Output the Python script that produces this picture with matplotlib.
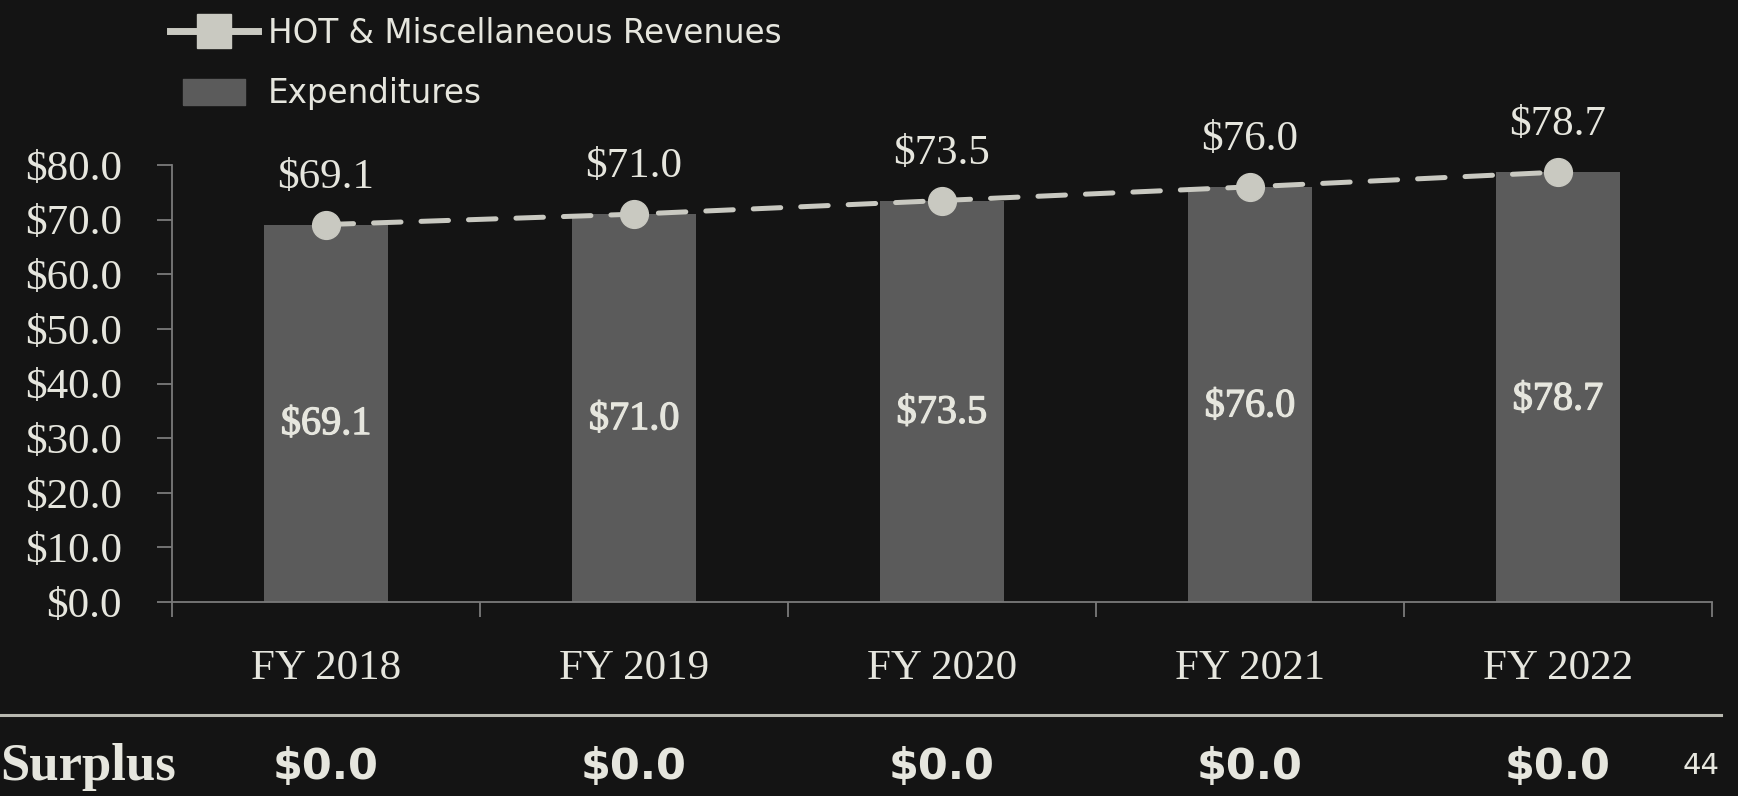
import matplotlib
matplotlib.use("Agg")
import matplotlib.pyplot as plt
from matplotlib.lines import Line2D
from matplotlib.path import Path
import matplotlib.patheffects as pe

# data
years = ["FY 2018", "FY 2019", "FY 2020", "FY 2021", "FY 2022"]
expenditures = [69.1, 71.0, 73.5, 76.0, 78.7]
revenues = [69.1, 71.0, 73.5, 76.0, 78.7]
surplus = [0.0, 0.0, 0.0, 0.0, 0.0]
yticks = [0, 10, 20, 30, 40, 50, 60, 70, 80]

bg = "#141414"
txt = "#e6e6de"
bar_col = "#5b5b5b"
line_col = "#c9c9c1"
axis_col = "#7a7a7a"
serif = "Liberation Serif"

fig = plt.figure(figsize=(17.38, 7.96), dpi=100)
fig.patch.set_facecolor(bg)
ax = fig.add_axes([0.099, 0.2437, 0.886, 0.549])
ax.set_facecolor(bg)

x = list(range(len(years)))
ax.bar(x, expenditures, width=0.4, color=bar_col, zorder=2)
ax.plot(x, revenues, color=line_col, lw=3.6, dashes=(5.5, 4),
        dash_capstyle="round", marker="o", markersize=20,
        markerfacecolor=line_col, markeredgecolor=line_col, zorder=3,
        clip_on=False)

# labels above points and inside bars
bold_ish = [pe.withStroke(linewidth=0.9, foreground=txt)]
for xi, r, e in zip(x, revenues, expenditures):
    ax.annotate(f"${r:.1f}", (xi, r), xytext=(0, 34), textcoords="offset points",
                ha="center", va="center", fontsize=31, color=txt,
                family=serif, annotation_clip=False)
    ax.text(xi, e * 0.47, f"${e:.1f}", ha="center", va="center",
            fontsize=29, color=txt, family=serif, zorder=4,
            path_effects=bold_ish)

ax.set_xlim(-0.5, len(years) - 0.5)
ax.set_ylim(0, 80)
ax.set_yticks(yticks)
ax.set_yticklabels([f"${v:.1f}" for v in yticks], family=serif, fontsize=31, color=txt)
ax.tick_params(axis="y", length=11, width=1.3, color=axis_col, pad=25)

ax.set_xticks(x)
ax.set_xticklabels(years, family=serif, fontsize=31, color=txt)
ax.set_xticks([i - 0.5 for i in range(len(years) + 1)], minor=True)
ax.tick_params(axis="x", which="major", length=0, pad=34)
ax.tick_params(axis="x", which="minor", length=11, width=1.3, color=axis_col)

for side in ["top", "right"]:
    ax.spines[side].set_visible(False)
for side in ["left", "bottom"]:
    ax.spines[side].set_color(axis_col)
    ax.spines[side].set_linewidth(1.3)

# legend
rect = Path([(-1, -0.44), (1, -0.44), (1, 0.44), (-1, 0.44), (-1, -0.44)])
handles = [
    Line2D([], [], color=line_col, lw=5, marker="s", markersize=25,
           markerfacecolor=line_col, markeredgecolor=line_col),
    Line2D([], [], ls="none", marker=rect, markersize=44,
           markerfacecolor=bar_col, markeredgecolor=bar_col),
]
leg = fig.legend(handles, ["HOT & Miscellaneous Revenues", "Expenditures"],
                 loc="upper left", bbox_to_anchor=(170 / 1738, 0.979),
                 frameon=False, fontsize=23.5, handlelength=2.7,
                 handletextpad=0.3, labelspacing=0.85, borderpad=0,
                 borderaxespad=0)
for t in leg.get_texts():
    t.set_color(txt)
    t.set_family("DejaVu Sans")

# surplus row
fig.add_artist(Line2D([0, 0.99], [0.102, 0.102], transform=fig.transFigure,
                      color="#b8b8b0", lw=2.2))
fig.text(0.0, 0.036, "Surplus", family=serif, fontsize=38, fontweight="bold",
         color=txt, ha="left", va="center")
for xi, s in zip(x, surplus):
    xf = fig.transFigure.inverted().transform(ax.transData.transform((xi, 0)))[0]
    fig.text(xf, 0.036, f"${s:.1f}", fontsize=31, fontweight="bold", color=txt,
             ha="center", va="center", family="DejaVu Sans")
fig.text(0.979, 0.038, "44", fontsize=21, color=txt, ha="center", va="center",
         family="DejaVu Sans")

fig.savefig("out.png", dpi=100, facecolor=bg)
